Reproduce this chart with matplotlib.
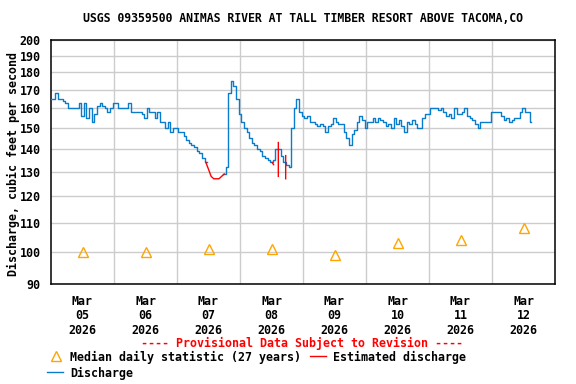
import matplotlib

matplotlib.use("Agg")

import numpy as np
import matplotlib.pyplot as plt
from matplotlib.lines import Line2D
from matplotlib.ticker import FixedLocator, NullLocator, FuncFormatter

plt.rcParams["font.family"] = "DejaVu Sans Mono"
plt.rcParams["font.weight"] = "bold"

title = "USGS 09359500 ANIMAS RIVER AT TALL TIMBER RESORT ABOVE TACOMA,CO"
ylabel = "Discharge, cubic feet per second"
day_labels = ["Mar\n05\n2026", "Mar\n06\n2026", "Mar\n07\n2026", "Mar\n08\n2026",
              "Mar\n09\n2026", "Mar\n10\n2026", "Mar\n11\n2026", "Mar\n12\n2026"]

# hourly discharge (cfs), hour 0 = Mar 05 00:00; None = estimated period
flow = [
    # Mar 05
    165, 165, 168, 165, 165, 164, 163, 160, 160, 160, 160, 163,
    156, 163, 155, 160, 153, 157, 161, 163, 161, 160, 158, 160,
    # Mar 06
    163, 163, 160, 160, 160, 160, 163, 158, 158, 158, 158, 157,
    155, 160, 158, 158, 155, 158, 153, 153, 150, 153, 148, 150,
    # Mar 07
    150, 148, 148, 146, 144, 143, 142, 141, 139, 138, 136, 134,
    None, None, None, None, None, None, 129, 132, 168, 175, 172, 165,
    # Mar 08
    157, 153, 150, 148, 145, 143, 142, 140, 139, 137, 136, 135,
    134, 135, 140, 140, 137, 134, 133, 132, 150, 160, 165, 158,
    # Mar 09
    156, 155, 156, 153, 153, 152, 151, 152, 151, 148, 151, 152,
    155, 153, 152, 152, 148, 145, 142, 147, 149, 153, 156, 154,
    # Mar 10
    150, 153, 153, 155, 153, 155, 154, 153, 151, 152, 150, 155,
    152, 154, 151, 148, 153, 152, 154, 152, 150, 150, 155, 157,
    # Mar 11
    157, 160, 160, 160, 159, 160, 158, 156, 157, 155, 160, 157,
    157, 158, 160, 156, 155, 154, 152, 150, 153, 153, 153, 153,
    # Mar 12
    158, 158, 158, 158, 156, 154, 155, 153, 154, 155, 155, 158,
    160, 158, 158, 153,
]

# estimated discharge (hours since Mar 05 00:00), NaN breaks the line
est_hours = [59, 60, 61, 62, 63, 64, 65, 66, np.nan,
             84.2, 84.8, np.nan, 86.6, 86.6, np.nan, 89.4, 89.4]
est_flow = [134, 131, 128, 127, 127, 127, 128, 129, np.nan,
            134, 133, np.nan, 143, 128, np.nan, 137, 127]

# median daily statistic (27 years), at noon of each day
median_hours = [12, 36, 60, 84, 108, 132, 156, 180]
median_flow = [100, 100, 101, 101, 99, 103, 104, 108]

blue = "#0a7ccc"
red = "#ff0000"
orange = "#ffa500"

hours = np.arange(len(flow))
flow_arr = np.array([np.nan if v is None else v for v in flow], dtype=float)

fig = plt.figure(figsize=(5.76, 3.84), dpi=100)
ax = fig.add_axes([51 / 576, 1 - 284 / 384, 504 / 576, 244 / 384])

ax.plot(hours, flow_arr, color=blue, lw=1.0, drawstyle="steps-mid", zorder=3)
ax.plot(est_hours, est_flow, color=red, lw=1.0, zorder=4)
ax.plot(median_hours, median_flow, ls="none", marker="^", ms=7, mfc="none",
        mec=orange, mew=1.0, zorder=5)

ax.set_yscale("log")
ax.set_ylim(90, 200)
ax.set_xlim(0, 192)
yt = list(range(90, 201, 10))
ax.yaxis.set_major_locator(FixedLocator(yt))
ax.yaxis.set_minor_locator(NullLocator())
ax.yaxis.set_major_formatter(FuncFormatter(lambda v, p: f"{v:.0f}"))
ax.set_xticks(median_hours)
ax.set_xticklabels(day_labels, linespacing=1.13)
ax.set_xticks(np.arange(24, 192, 24), minor=True)

ax.grid(True, which="major", axis="y", color="#cccccc", lw=1.0, zorder=0)
ax.grid(True, which="minor", axis="x", color="#cccccc", lw=1.0, zorder=0)
ax.tick_params(axis="both", which="both", length=0, labelsize=8.4)
ax.tick_params(axis="y", pad=7.5)
ax.tick_params(axis="x", pad=8)
for s in ax.spines.values():
    s.set_linewidth(1.1)
    s.set_color("black")

fig.text(303 / 576, 1 - 19 / 384, title, ha="center", va="center", fontsize=8.3)
fig.text(13 / 576, 1 - 164 / 384, ylabel, ha="center", va="center",
         rotation=90, fontsize=8.4)
fig.text(302 / 576, 1 - 343 / 384, "---- Provisional Data Subject to Revision ----",
         ha="center", va="center", color=red, fontsize=8.4)

# legend
fig.add_artist(Line2D([56 / 576], [1 - 356 / 384], ls="none", marker="^", ms=7,
                      mfc="none", mec=orange, mew=1.0))
fig.text(70 / 576, 1 - 357 / 384, "Median daily statistic (27 years)",
         ha="left", va="center", fontsize=8.4)
fig.add_artist(Line2D([310 / 576, 326 / 576], [1 - 356 / 384] * 2, color=red, lw=1.0))
fig.text(333 / 576, 1 - 357 / 384, "Estimated discharge",
         ha="left", va="center", fontsize=8.4)
fig.add_artist(Line2D([47 / 576, 63 / 576], [1 - 372 / 384] * 2, color=blue, lw=1.0))
fig.text(70 / 576, 1 - 373 / 384, "Discharge", ha="left", va="center", fontsize=8.4)

fig.savefig("out.png", dpi=100)
